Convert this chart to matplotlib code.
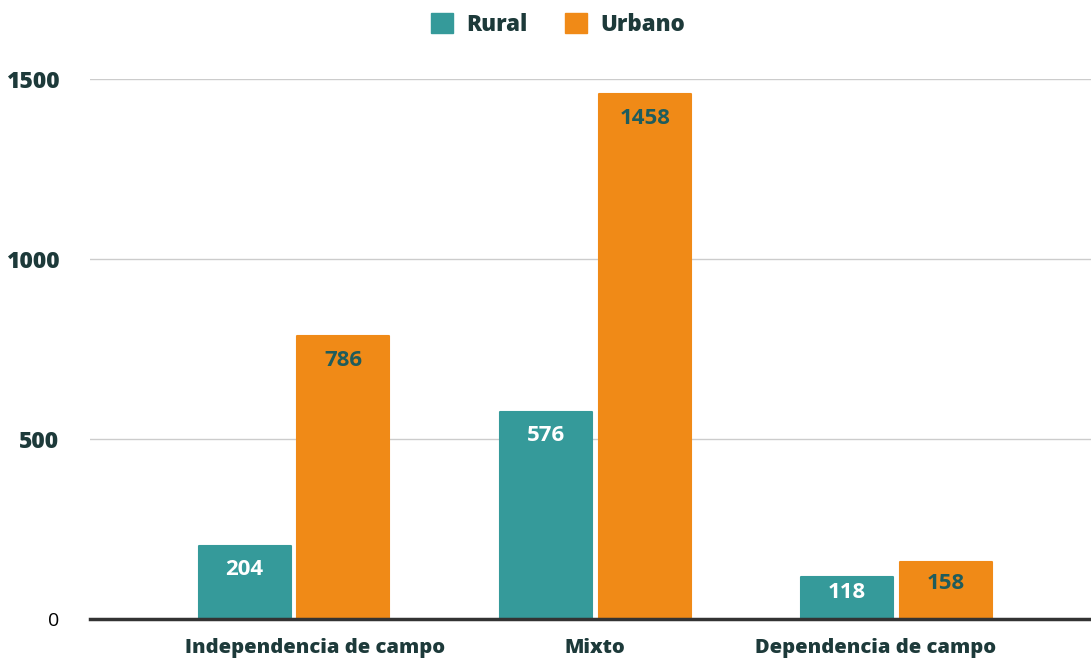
import numpy as np
import matplotlib.pyplot as plt
from matplotlib.patches import Patch
from matplotlib.transforms import ScaledTranslation

plt.rcParams['font.family'] = ['Open Sans', 'DejaVu Sans']

categories = ['Independencia de campo', 'Mixto', 'Dependencia de campo']
rural = [204, 576, 118]
urbano = [786, 1458, 158]

teal = '#359a9a'
orange = '#f08a17'
dark = '#1d3a3a'

fig = plt.figure(figsize=(10.91, 6.62), dpi=100)
ax = fig.add_axes([90 / 1091, 43 / 662, 1001 / 1091, 540 / 662])

x = np.arange(len(categories))
w = 0.305
off = 0.164

ax.bar(x - off, rural, w, color=teal, edgecolor=teal, linewidth=1.5, joinstyle='round', zorder=3)
ax.bar(x + off, urbano, w, color=orange, edgecolor=orange, linewidth=1.5, joinstyle='round', zorder=3)

def label_y(v):
    return max(v - 67, v * 0.62)

for xi, v in zip(x - off, rural):
    ax.text(xi, label_y(v), str(v), ha='center', va='center', color='white',
            fontsize=16, fontweight='bold', zorder=4)
for xi, v in zip(x + off, urbano):
    ax.text(xi, label_y(v), str(v), ha='center', va='center', color='#1f5c5c',
            fontsize=16, fontweight='bold', zorder=4)

ax.set_ylim(0, 1500)
ax.set_xlim(-0.677, 2.645)
ax.set_yticks([0, 500, 1000, 1500])
ax.set_yticklabels(['0', '500', '1000', '1500'])
for i, t in enumerate(ax.get_yticklabels()):
    if i == 0:
        t.set_color('black')
        t.set_fontsize(14)
    else:
        t.set_color(dark)
        t.set_fontweight(800)
        t.set_fontsize(16.5)
ax.tick_params(axis='y', length=0, pad=22)
ax.set_xticks(x)
ax.set_xticklabels(categories, fontsize=14.5, fontweight=800, color=dark)
ax.tick_params(axis='x', length=0, pad=14)
# first and last labels sit slightly toward the middle in the original
shifts = [21, 0, -21]
for t, s in zip(ax.get_xticklabels(), shifts):
    t.set_transform(t.get_transform() + ScaledTranslation(s / 100, 0, fig.dpi_scale_trans))

ax.grid(axis='y', color='#cccccc', linewidth=1, zorder=0)
for s in ['top', 'right', 'left']:
    ax.spines[s].set_visible(False)
ax.spines['bottom'].set_color('#333333')
ax.spines['bottom'].set_linewidth(2.5)
ax.spines['bottom'].set_zorder(5)

handles = [Patch(color=teal, label='Rural'), Patch(color=orange, label='Urbano')]
leg = fig.legend(handles=handles, loc='center', bbox_to_anchor=(558 / 1091, 1 - 25 / 662),
                 ncol=2, frameon=False, handlelength=1.0, handleheight=1.0,
                 columnspacing=1.7, handletextpad=0.6,
                 prop={'weight': 800, 'size': 16})
for t in leg.get_texts():
    t.set_color(dark)

fig.savefig('out.png', dpi=100)
